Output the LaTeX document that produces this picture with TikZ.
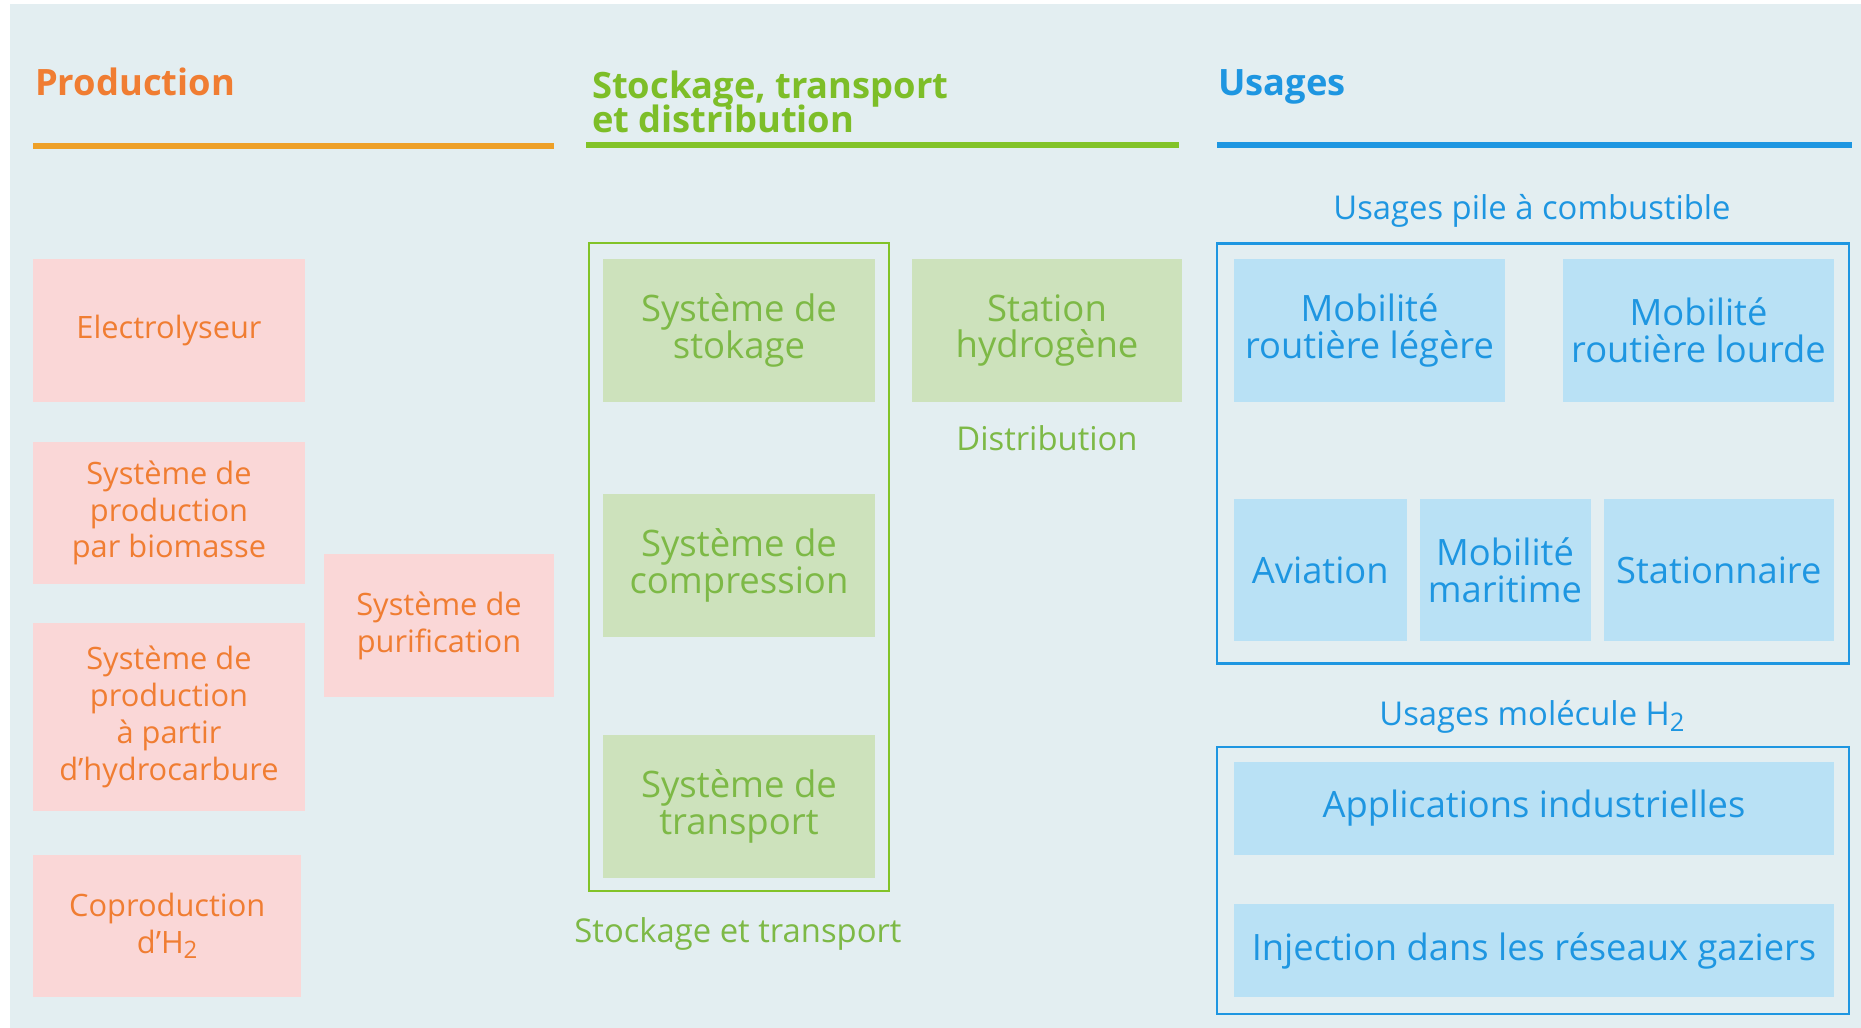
\documentclass[tikz,border=0pt]{standalone}
\usepackage{fontspec}
\setmainfont{Open Sans}
\definecolor{bg}{RGB}{227,238,241}
\definecolor{pinkfill}{RGB}{250,215,215}
\definecolor{orangetxt}{RGB}{240,125,50}
\definecolor{orangeline}{RGB}{238,160,40}
\definecolor{greenfill}{RGB}{205,226,188}
\definecolor{greentxt}{RGB}{125,185,70}
\definecolor{greenhead}{RGB}{125,190,40}
\definecolor{greenline}{RGB}{130,195,40}
\definecolor{bluefill}{RGB}{185,225,245}
\definecolor{bluetxt}{RGB}{30,150,225}
\newcommand{\hsub}[1]{\raisebox{-0.32ex}{\scalebox{0.78}{#1}}}
\begin{document}
\begin{tikzpicture}[x=1pt,y=-1pt,
  boxbase/.style={align=center, inner sep=0pt, minimum width=272pt, minimum height=143pt},
  pbox/.style={boxbase, fill=pinkfill, text=orangetxt, font=\fontsize{30.8}{36.8}\selectfont},
  gbox/.style={boxbase, fill=greenfill, text=greentxt, font=\fontsize{36.5}{36.8}\selectfont},
  bbox/.style={boxbase, fill=bluefill, text=bluetxt, font=\fontsize{36.3}{37}\selectfont},
  frameg/.style={draw=greenline, line width=2.5pt, inner sep=0pt, fill=none},
  frameb/.style={draw=bluetxt, line width=2.5pt, inner sep=0pt, fill=none},
  heading/.style={anchor=base west, inner sep=0pt, align=left, font=\bfseries\fontsize{36.3}{34.4}\selectfont},
  sublabel/.style={inner sep=0pt, font=\fontsize{32.8}{34}\selectfont},
  hline/.style={line width=5.5pt}
]
\useasboundingbox (0,0) rectangle (1861,1028);
\fill[white] (0,0) rectangle (1861,1028);
\fill[bg] (10,4) rectangle (1861,1028);

% headings
\node[heading, text=orangetxt] (hprod) at (35,95) {Production};
\node[heading, text=greenhead] (hstock) at (592,132) {Stockage, transport\\[-4pt]et distribution};
\node[heading, text=bluetxt] (husage) at (1218,95) {Usages};

\coordinate (lo1) at (33,146); \coordinate (lo2) at (554,146);
\coordinate (lg1) at (586,145); \coordinate (lg2) at (1179,145);
\coordinate (lb1) at (1217,145); \coordinate (lb2) at (1852,145);
\draw[hline, orangeline] (lo1) -- (lo2);
\draw[hline, greenline] (lg1) -- (lg2);
\draw[hline, bluetxt] (lb1) -- (lb2);

% production
\node[pbox] (elec) at (169,330.5) {Electrolyseur};
\node[pbox, minimum height=142.5pt] (bio) at (169,513) {Système de\\production\\par biomasse};
\node[pbox, minimum height=187.6pt] (hydro) at (169,717) {Système de\\production\\à partir\\d’hydrocarbure};
\node[pbox, minimum width=268.5pt, minimum height=142.4pt] (copro) at (167.2,926) {Coproduction\\d’H\hsub{2}};
\node[pbox, minimum width=230pt] (purif) at (439,625.5) {Système de\\purification};

% stockage
\node[frameg, minimum width=300pt, minimum height=648pt] (gframe) at (739,567) {};
\node[gbox] (stok) at (739,330.5) {Système de\\stokage};
\node[gbox] (compr) at (739,565.5) {Système de\\compression};
\node[gbox] (transp) at (739,806.5) {Système de\\transport};
\node[sublabel, text=greentxt] (lst) at (738,934) {Stockage et transport};
\node[gbox, minimum width=270.5pt] (station) at (1047,330.5) {Station\\hydrogène};
\node[sublabel, text=greentxt] (ldist) at (1047,438) {Distribution};

% usages
\node[sublabel, text=bluetxt] (lpac) at (1532,211) {Usages pile à combustible};
\node[frameb, minimum width=632pt, minimum height=420pt] (bframe1) at (1533,453.4) {};
\node[bbox, minimum width=271pt] (mrl) at (1369.5,330.5) {Mobilité\\routière légère};
\node[bbox, minimum width=271pt] (mrlo) at (1698.5,330.5) {Mobilité\\routière lourde};
\node[bbox, minimum width=172.5pt, minimum height=142.5pt] (avia) at (1320.3,570) {Aviation};
\node[bbox, minimum width=171pt, minimum height=142.5pt] (marit) at (1505,570) {Mobilité\\maritime};
\node[bbox, minimum width=230.5pt, minimum height=142.5pt] (stat) at (1718.8,570) {Stationnaire};

\node[sublabel, text=bluetxt] (lmol) at (1532,717) {Usages molécule H\hsub{2}};
\node[frameb, minimum width=632pt, minimum height=267pt] (bframe2) at (1533,880.3) {};
\node[bbox, minimum width=600pt, minimum height=92.6pt] (appl) at (1534,808.3) {Applications industrielles};
\node[bbox, minimum width=600pt, minimum height=92.6pt] (inject) at (1534,950.7) {Injection dans les réseaux gaziers};
\end{tikzpicture}
\end{document}
